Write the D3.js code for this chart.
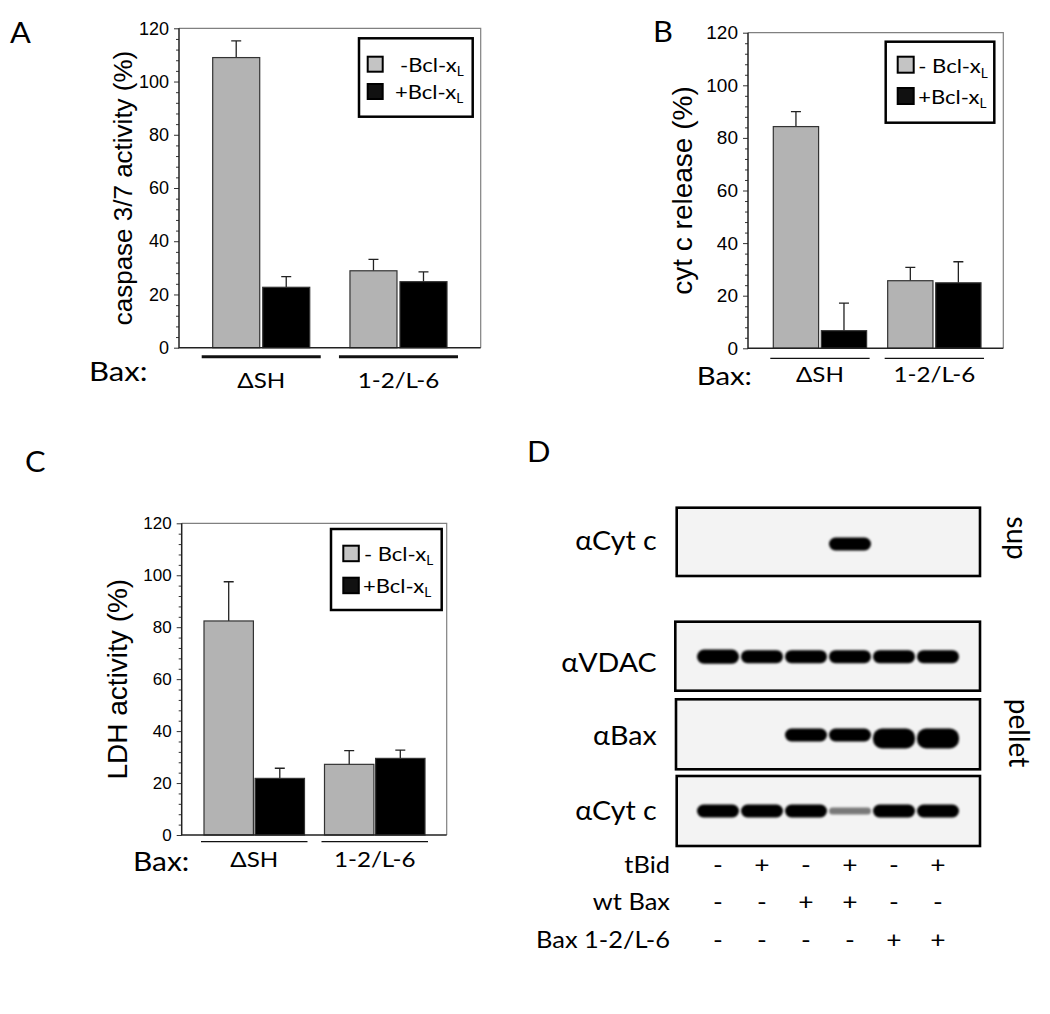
<!DOCTYPE html>
<html><head><meta charset="utf-8">
<script src="https://cdn.jsdelivr.net/npm/d3@7"></script>
<style>body{margin:0;background:#fff}svg{display:block}</style>
</head><body>
<svg id="fig" width="1050" height="1014"></svg>
<script>
// ---------------- data ----------------
const groups = ["ΔSH", "1-2/L-6"];
const seriesKeys = ["minus", "plus"];
const legendLabelsA = [" -Bcl-x", "+Bcl-x"];
const legendLabelsBC = ["- Bcl-x", "+Bcl-x"];
const yTicks = [0, 20, 40, 60, 80, 100, 120];

const caspaseMinus = [109.0, 28.9];
const caspaseMinusErr = [6.3, 4.3];
const caspasePlus = [22.7, 24.8];
const caspasePlusErr = [4.0, 3.7];

const cytcMinus = [84.3, 25.7];
const cytcMinusErr = [5.7, 5.1];
const cytcPlus = [6.7, 24.9];
const cytcPlusErr = [10.5, 8.0];

const ldhMinus = [82.4, 27.2];
const ldhMinusErr = [15.1, 5.3];
const ldhPlus = [21.8, 29.5];
const ldhPlusErr = [3.9, 3.2];

const lanes = [1, 2, 3, 4, 5, 6];
const tBid = ["-", "+", "-", "+", "-", "+"];
const wtBax = ["-", "-", "+", "+", "-", "-"];
const bax12L6 = ["-", "-", "-", "-", "+", "+"];
const supCytc = [0, 0, 0, 1, 0, 0];
const pelletVdac = [1.1, 1, 1, 1, 1, 1];
const pelletBax = [0, 0, 1, 1, 1.6, 1.6];
const pelletCytc = [1, 1, 1, 0.35, 1, 1];

// ---------------- helpers ----------------
const svg = d3.select("#fig");
const LATO = "Lato, 'Open Sans', sans-serif";
const ARIAL = "'Liberation Sans', Arial, sans-serif";

function txt(g, x, y, s, o = {}) {
  const sx = o.sx ?? 1.1;
  const t = g.append("text")
    .attr("transform", `translate(${x},${y}) scale(${sx},1)` + (o.rot ? ` rotate(${o.rot})` : ""))
    .attr("font-family", o.font ?? LATO)
    .attr("font-size", o.size ?? 24)
    .attr("fill", o.fill ?? "#000")
    .attr("text-anchor", o.anchor ?? "start")
    .text(s);
  if (o.baseline) t.attr("dominant-baseline", o.baseline);
  return t;
}

function legendText(g, x, y, s, size, sx) {
  const t = txt(g, x, y, s, { size, sx });
  t.append("tspan").attr("font-size", size * 0.62).attr("dy", size * 0.22).text("L");
}

// ---------------- bar panels ----------------
const barPanels = [
  {
    letter: "A", letterPos: [10, 43],
    minus: caspaseMinus, minusErr: caspaseMinusErr, plus: caspasePlus, plusErr: caspasePlusErr,
    frame: { l: 179, t: 28.3, r: 480.7, b: 347.7 },
    barRange: [212.7, 447], groupPad: 0.293, innerPad: 0.06,
    tickSize: 18,
    title: "caspase 3/7 activity (%)", titleX: 123, titleSize: 26,
    legend: { x: 359, y: 38.3, w: 113.7, h: 78.4, sw: 15, swX: 367.7, swY: [56.7, 84], tx: [400, 395], ty: [72, 99], labels: legendLabelsA, size: 20 },
    underline: { y: 356.7, ext: 11, width: 3 },
    bax: [89, 381], groupLabelY: 388, labelSize: 22, baxSize: 27
  },
  {
    letter: "B", letterPos: [653, 42],
    minus: cytcMinus, minusErr: cytcMinusErr, plus: cytcPlus, plusErr: cytcPlusErr,
    frame: { l: 748, t: 32.7, r: 1003.3, b: 348.3 },
    barRange: [773.3, 981], groupPad: 0.184, innerPad: 0.057,
    tickSize: 19,
    title: "cyt c release (%)", titleX: 682, titleSize: 28,
    legend: { x: 885.7, y: 41.7, w: 108.6, h: 81, sw: 16, swX: 897.7, swY: [56.7, 88], tx: [918.3, 918.3], ty: [73.3, 104], labels: legendLabelsBC, size: 20 },
    underline: { y: 358.3, ext: 3, width: 1.2 },
    bax: [696.7, 384.5], groupLabelY: 382, labelSize: 22, baxSize: 25.5
  },
  {
    letter: "C", letterPos: [25, 472],
    minus: ldhMinus, minusErr: ldhMinusErr, plus: ldhPlus, plusErr: ldhPlusErr,
    frame: { l: 181.7, t: 523.3, r: 446.7, b: 835 },
    barRange: [204, 425], groupPad: 0.166, innerPad: 0.033,
    tickSize: 17,
    title: "LDH activity (%)", titleX: 117, titleSize: 28,
    legend: { x: 331, y: 529, w: 110.7, h: 81, sw: 15.5, swX: 343.3, swY: [545.7, 577.7], tx: [364, 363], ty: [561, 592.7], labels: legendLabelsBC, size: 20 },
    underline: { y: 841.7, ext: 3, width: 1.2 },
    bax: [133, 870.5], groupLabelY: 867, labelSize: 22, baxSize: 26
  }
];

const fills = { minus: "#b3b3b3", plus: "#000" };
const swatchFills = ["#c4c4c4", "#111"];

barPanels.forEach(p => {
  const g = svg.append("g");
  const f = p.frame;
  const y = d3.scaleLinear().domain([0, 120]).range([f.b, f.t]);
  const x0 = d3.scaleBand().domain(groups).range(p.barRange).paddingInner(p.groupPad);
  const x1 = d3.scaleBand().domain(seriesKeys).range([0, x0.bandwidth()]).paddingInner(p.innerPad);

  // frame top/right
  g.append("path").attr("d", `M${f.l},${f.t}H${f.r}V${f.b}`)
    .attr("fill", "none").attr("stroke", "#808080").attr("stroke-width", 1.2);

  // minor ticks
  const minor = d3.range(0, 121, 4).filter(v => v % 20 !== 0);
  g.append("g").attr("transform", `translate(${f.l},0)`)
    .call(d3.axisLeft(y).tickValues(minor).tickSize(3).tickFormat(""))
    .call(a => a.select(".domain").remove())
    .selectAll("line").attr("stroke", "#333");
  // major ticks + labels
  const ax = g.append("g").attr("transform", `translate(${f.l},0)`)
    .call(d3.axisLeft(y).tickValues(yTicks).tickSize(5).tickPadding(5));
  ax.select(".domain").remove();
  ax.selectAll("line").attr("stroke", "#333");
  ax.selectAll("text").attr("font-family", ARIAL).attr("font-size", p.tickSize).attr("fill", "#000");

  // bars
  const rows = groups.map((grp, i) => ({
    grp,
    vals: [
      { key: "minus", v: p.minus[i], e: p.minusErr[i] },
      { key: "plus", v: p.plus[i], e: p.plusErr[i] }
    ]
  }));
  const gg = g.selectAll(".grp").data(rows).join("g")
    .attr("transform", d => `translate(${x0(d.grp)},0)`);
  gg.selectAll(".err").data(d => d.vals).join("path")
    .attr("d", d => {
      const cx = x1(d.key) + x1.bandwidth() / 2;
      return `M${cx},${y(d.v)}V${y(d.v + d.e)}M${cx - 5},${y(d.v + d.e)}H${cx + 5}`;
    })
    .attr("stroke", "#222").attr("stroke-width", 1.3).attr("fill", "none");
  gg.selectAll("rect").data(d => d.vals).join("rect")
    .attr("x", d => x1(d.key)).attr("width", x1.bandwidth())
    .attr("y", d => y(d.v)).attr("height", d => y(0) - y(d.v))
    .attr("fill", d => fills[d.key]).attr("stroke", "#333").attr("stroke-width", 1.2);

  // axes lines (left + bottom)
  g.append("path").attr("d", `M${f.l},${f.t}V${f.b}H${f.r}`)
    .attr("fill", "none").attr("stroke", "#222").attr("stroke-width", 1.5);

  // legend
  const L = p.legend;
  g.append("rect").attr("x", L.x).attr("y", L.y).attr("width", L.w).attr("height", L.h)
    .attr("fill", "#fff").attr("stroke", "#000").attr("stroke-width", 2.5);
  L.labels.forEach((lab, i) => {
    g.append("rect").attr("x", L.swX).attr("y", L.swY[i]).attr("width", L.sw).attr("height", L.sw)
      .attr("fill", swatchFills[i]).attr("stroke", "#000").attr("stroke-width", 2);
    legendText(g, L.tx[i], L.ty[i], lab, L.size, 1.1);
  });

  // group underlines and labels
  groups.forEach(grp => {
    const a = x0(grp) - p.underline.ext, b = x0(grp) + x0.bandwidth() + p.underline.ext;
    g.append("line").attr("x1", a).attr("x2", b).attr("y1", p.underline.y).attr("y2", p.underline.y)
      .attr("stroke", "#111").attr("stroke-width", p.underline.width);
    txt(g, x0(grp) + x0.bandwidth() / 2, p.groupLabelY, grp, { size: p.labelSize, anchor: "middle" });
  });
  txt(g, p.bax[0], p.bax[1], "Bax:", { size: p.baxSize, sx: 1.15 });

  // y title
  txt(g, p.titleX, (f.t + f.b) / 2, p.title, { font: ARIAL, size: p.titleSize, anchor: "middle", rot: -90, baseline: "central", sx: 1 });

  // panel letter
  txt(g, p.letterPos[0], p.letterPos[1], p.letter, { size: 28 });
});

// ---------------- panel D: blots ----------------
const D = svg.append("g");
txt(D, 527, 461.7, "D", { size: 28 });

const defs = svg.append("defs");
defs.append("filter").attr("id", "blur").attr("x", "-20%").attr("y", "-60%").attr("width", "140%").attr("height", "220%")
  .append("feGaussianBlur").attr("stdDeviation", 1.3);

const laneX = d3.scalePoint().domain(lanes).range([718, 938]);
const bandH = d3.scaleLinear().domain([0, 0.35, 1, 1.6]).range([0, 7, 13, 20]);
const bandOp = d3.scaleLinear().domain([0, 0.35, 1]).range([0, 0.5, 1]).clamp(true);

const blots = [
  { label: "αCyt c", data: supCytc, box: [676.7, 507.7, 980, 576], bandY: 544, anchor: "center", labelY: 550 },
  { label: "αVDAC", data: pelletVdac, box: [675.3, 621.7, 980, 690.7], bandY: 656.7, anchor: "center", labelY: 671.7 },
  { label: "αBax", data: pelletBax, box: [676, 699.3, 980, 769.3], bandY: 735, anchor: "top", labelY: 745 },
  { label: "αCyt c", data: pelletCytc, box: [676.7, 776, 980, 846], bandY: 811, anchor: "center", labelY: 820 }
];

blots.forEach(b => {
  const [x1, y1, x2, y2] = b.box;
  D.append("rect").attr("x", x1).attr("y", y1).attr("width", x2 - x1).attr("height", y2 - y1)
    .attr("fill", "#f3f3f3").attr("stroke", "#000").attr("stroke-width", 2.6);
  const bw = 42;
  D.selectAll(null).data(lanes.map((l, i) => ({ l, v: b.data[i] })).filter(d => d.v > 0))
    .join("rect")
    .attr("x", d => laneX(d.l) - bw / 2)
    .attr("width", bw)
    .attr("y", d => b.anchor === "top" ? b.bandY - bandH(1) / 2 : b.bandY - bandH(d.v) / 2)
    .attr("height", d => bandH(d.v))
    .attr("rx", d => Math.min(9, bandH(d.v) / 2))
    .attr("fill", "#000")
    .attr("opacity", d => bandOp(d.v))
    .attr("filter", "url(#blur)");
  txt(D, 656.7, b.labelY, b.label, { size: 26, anchor: "end" });
});

txt(D, 1018, 538, "sup", { size: 28, anchor: "middle", rot: 90, baseline: "central", sx: 1 });
txt(D, 1020, 733, "pellet", { size: 28, anchor: "middle", rot: 90, baseline: "central", sx: 1 });

const tableRows = [
  { label: "tBid", signs: tBid, y: 872.7 },
  { label: "wt Bax", signs: wtBax, y: 910 },
  { label: "Bax 1-2/L-6", signs: bax12L6, y: 948.3 }
];
tableRows.forEach(r => {
  txt(D, 670, r.y, r.label, { size: 24, anchor: "end", sx: 1.06 });
  r.signs.forEach((s, i) => {
    txt(D, laneX(lanes[i]), r.y, s, { size: 24, anchor: "middle" });
  });
});
</script>
</body></html>
